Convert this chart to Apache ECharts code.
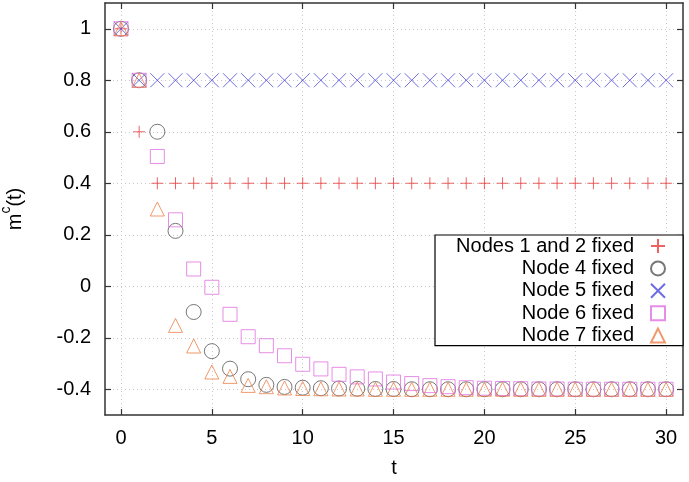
<!DOCTYPE html>
<html>
<head>
<meta charset="utf-8">
<script src="https://cdn.jsdelivr.net/npm/echarts@6/dist/echarts.min.js"></script>
<style>html,body{margin:0;padding:0;background:#fff}#c{width:689px;height:482px}</style>
</head>
<body>
<div id="c"></div>
<script>
const tValues = Array.from({length: 31}, (_, i) => i);
const nodes12 = [1, 0.6, 0.4, 0.4, 0.4, 0.4, 0.4, 0.4, 0.4, 0.4, 0.4, 0.4, 0.4, 0.4, 0.4, 0.4, 0.4, 0.4, 0.4, 0.4, 0.4, 0.4, 0.4, 0.4, 0.4, 0.4, 0.4, 0.4, 0.4, 0.4, 0.4];
const node4 = [1, 0.8, 0.6, 0.215, -0.1, -0.252, -0.32, -0.361, -0.383, -0.391, -0.394, -0.396, -0.397, -0.398, -0.399, -0.399, -0.4, -0.4, -0.4, -0.4, -0.4, -0.4, -0.4, -0.4, -0.4, -0.4, -0.4, -0.4, -0.4, -0.4, -0.4];
const node5 = [1, 0.8, 0.8, 0.8, 0.8, 0.8, 0.8, 0.8, 0.8, 0.8, 0.8, 0.8, 0.8, 0.8, 0.8, 0.8, 0.8, 0.8, 0.8, 0.8, 0.8, 0.8, 0.8, 0.8, 0.8, 0.8, 0.8, 0.8, 0.8, 0.8, 0.8];
const node6 = [1, 0.8, 0.504, 0.258, 0.067, -0.004, -0.109, -0.196, -0.231, -0.27, -0.303, -0.321, -0.342, -0.352, -0.36, -0.372, -0.378, -0.386, -0.39, -0.394, -0.396, -0.397, -0.398, -0.399, -0.399, -0.4, -0.4, -0.4, -0.4, -0.4, -0.4];
const node7 = [1, 0.8, 0.3, -0.152, -0.232, -0.333, -0.35, -0.385, -0.39, -0.395, -0.397, -0.398, -0.399, -0.399, -0.4, -0.4, -0.4, -0.4, -0.4, -0.4, -0.4, -0.4, -0.4, -0.4, -0.4, -0.4, -0.4, -0.4, -0.4, -0.4, -0.4];
const seriesNames = ['Nodes 1 and 2 fixed', 'Node 4 fixed', 'Node 5 fixed', 'Node 6 fixed', 'Node 7 fixed'];
const xTicks = [0, 5, 10, 15, 20, 25, 30];
const yTicks = [-0.4, -0.2, 0, 0.2, 0.4, 0.6, 0.8, 1];

const FONT = 'Liberation Sans, Arial, sans-serif';
const seriesData = [nodes12, node4, node5, node6, node7];
const symbols = ['path://M0,5L10,5M5,0L5,10', 'circle', 'path://M0,0L10,10M10,0L0,10', 'rect', 'triangle'];
const sizes = [12, 15, 14, 14, 14];
const colors = ['#e83c3c', '#555555', '#4a4adc', '#e070e0', '#ee8048'];

const chart = echarts.init(document.getElementById('c'), null, {renderer: 'canvas'});
const axisLineStyle = {color: '#333', width: 1.5};
chart.setOption({
  animation: false,
  backgroundColor: '#fff',
  grid: {left: 105, right: 6, top: 3, bottom: 67, containLabel: false, outerBoundsMode: 'none'},
  xAxis: [{
    type: 'value', min: -0.88, max: 30.93,
    name: 't', nameLocation: 'middle', nameGap: 43,
    nameTextStyle: {fontSize: 20, color: '#000', fontFamily: FONT},
    axisLine: {show: true, onZero: false, lineStyle: axisLineStyle},
    axisTick: {show: true, inside: true, length: 6, customValues: xTicks, lineStyle: {color: '#333', width: 1.2}},
    axisLabel: {customValues: xTicks, fontSize: 20, color: '#000', margin: 13, fontFamily: FONT},
    splitLine: {show: true, lineStyle: {color: '#c8c8c8', type: [1, 3], width: 1}}
  }, {
    type: 'value', min: -0.88, max: 30.93, position: 'top',
    axisLine: {show: true, onZero: false, lineStyle: axisLineStyle},
    axisTick: {show: true, inside: true, length: 6, customValues: xTicks, lineStyle: {color: '#333', width: 1.2}},
    axisLabel: {show: false},
    splitLine: {show: false}
  }],
  yAxis: [{
    type: 'value', min: -0.5, max: 1.1,
    name: '{m|m}{c|c}{m|(t)}', nameLocation: 'middle', nameGap: 80, nameRotate: 90,
    nameTextStyle: {fontSize: 20, color: '#000', fontFamily: FONT,
      rich: {m: {fontSize: 20, fontFamily: FONT, color: '#000', lineHeight: 26, verticalAlign: 'bottom'},
             c: {fontSize: 14, fontFamily: FONT, color: '#000', lineHeight: 26, verticalAlign: 'top'}}},
    axisLine: {show: true, onZero: false, lineStyle: axisLineStyle},
    axisTick: {show: true, inside: true, length: 6, customValues: yTicks, lineStyle: {color: '#333', width: 1.2}},
    axisLabel: {customValues: yTicks, fontSize: 20, color: '#000', margin: 14, fontFamily: FONT},
    splitLine: {show: true, lineStyle: {color: '#c8c8c8', type: [1, 3], width: 1}}
  }, {
    type: 'value', min: -0.5, max: 1.1, position: 'right',
    axisLine: {show: true, onZero: false, lineStyle: axisLineStyle},
    axisTick: {show: true, inside: true, length: 6, customValues: yTicks, lineStyle: {color: '#333', width: 1.2}},
    axisLabel: {show: false},
    splitLine: {show: false}
  }],
  legend: {
    orient: 'vertical', right: 6, top: 235, align: 'right',
    backgroundColor: '#fff', borderColor: '#000', borderWidth: 1.2,
    padding: [1, 17, 0, 5], itemGap: 2.4, itemWidth: 14, itemHeight: 14,
    textStyle: {fontSize: 20, color: '#000', fontFamily: FONT, width: 194, align: 'right', lineHeight: 20, padding: [0, 12, 0, 0]},
    data: seriesNames
  },
  series: seriesNames.map((name, k) => ({
    name: name, type: 'scatter', xAxisIndex: 0, yAxisIndex: 0,
    symbol: symbols[k], symbolSize: sizes[k], symbolKeepAspect: true,
    itemStyle: {color: 'rgba(0,0,0,0)', borderColor: colors[k], borderWidth: 1},
    emphasis: {disabled: true},
    data: tValues.map((t, i) => [t, seriesData[k][i]])
  }))
});
</script>
</body>
</html>
